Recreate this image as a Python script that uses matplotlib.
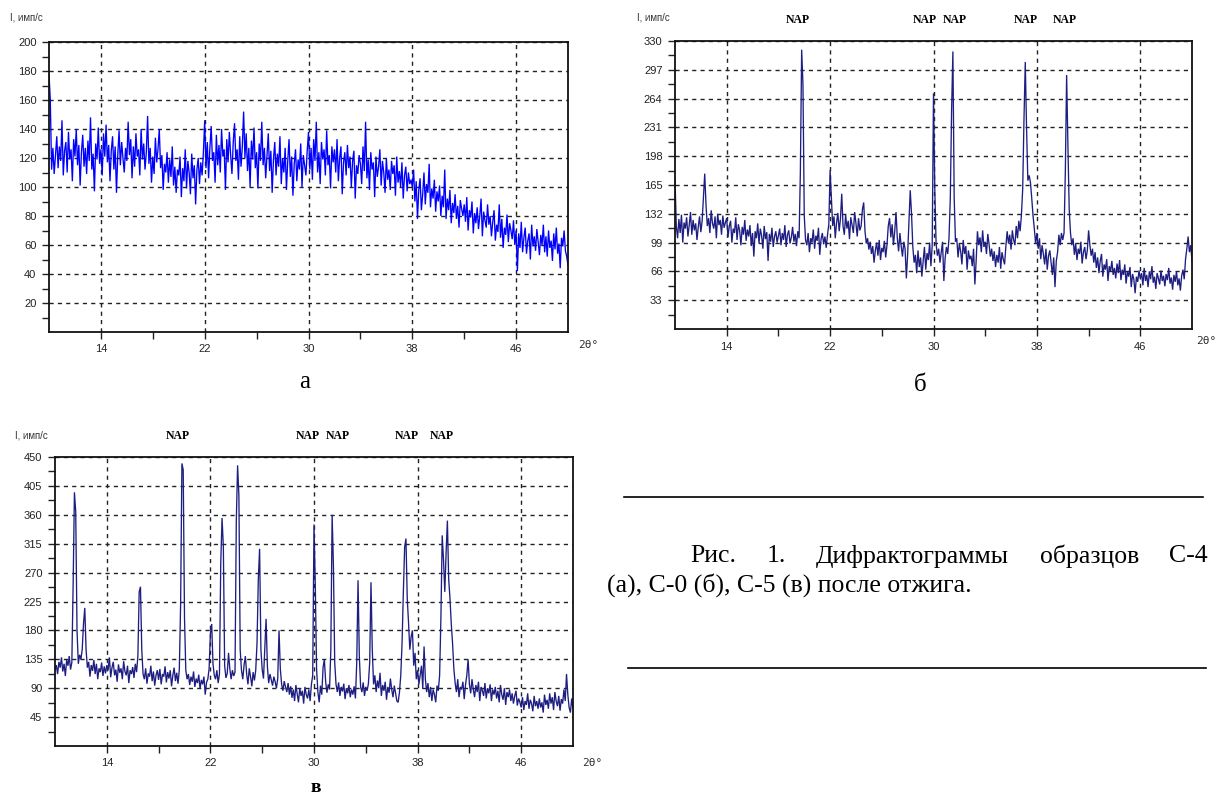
import numpy as np
import matplotlib
matplotlib.use('Agg')
import matplotlib.pyplot as plt

# 2θ grid: 10.0 .. 50.0 step 0.1 deg
theta_start, theta_stop, theta_step = 10.0, 50.0, 0.1

# ---- sample C-4 (а) ----
intensity_a = [
    178, 160, 112, 127, 109, 122, 135, 113, 128, 118, 146, 108, 125, 131, 110, 138, 119, 126, 104, 133,
    121, 140, 115, 129, 101, 124, 136, 114, 127, 109, 132, 118, 148, 112, 123, 97, 130, 119, 141, 116,
    126, 108, 137, 121, 143, 117, 129, 104, 125, 135, 112, 128, 96, 122, 139, 115, 131, 120, 110, 127,
    118, 145, 122, 133, 106, 128, 114, 137, 121, 126, 108, 140, 119, 130, 112, 124, 149, 116, 127, 103,
    121, 109, 134, 117, 126, 140, 113, 122, 98, 116, 110, 124, 103, 119, 107, 128, 101, 114, 96, 112,
    108, 121, 93, 113, 104, 126, 99, 118, 110, 95, 123, 106, 115, 88, 112, 120, 102, 117, 108, 124,
    146, 113, 131, 106, 127, 142, 118, 124, 103, 136, 115, 129, 110, 140, 121, 126, 98, 133, 117, 138,
    122, 109, 131, 144, 118, 126, 105, 135, 114, 128, 152, 120, 137, 111, 127, 100, 132, 119, 141, 113,
    124, 99, 130, 118, 145, 115, 127, 106, 121, 137, 111, 125, 96, 119, 131, 108, 123, 114, 135, 102,
    120, 110, 127, 98, 118, 133, 107, 121, 94, 116, 126, 104, 119, 112, 130, 100, 122, 115, 108, 125,
    138, 112, 127, 105, 133, 118, 145, 110, 124, 102, 131, 119, 126, 108, 139, 115, 122, 99, 128, 117,
    126, 110, 133, 104, 120, 128, 95, 117, 124, 108, 129, 113, 121, 100, 118, 125, 92, 115, 109, 122,
    116, 102, 128, 111, 145, 106, 119, 98, 124, 112, 117, 93, 121, 107, 114, 126, 101, 118, 110, 96,
    120, 105, 112, 98, 118, 109, 115, 94, 121, 103, 111, 100, 117, 92, 108, 114, 97, 110, 102, 105,
    100, 112, 90, 104, 78, 98, 106, 84, 95, 110, 88, 102, 96, 116, 86, 99, 92, 105, 83, 97,
    90, 101, 80, 94, 86, 112, 78, 92, 84, 98, 75, 89, 82, 95, 78, 87, 72, 91, 85, 80,
    88, 76, 93, 70, 84, 79, 90, 68, 82, 75, 86, 71, 80, 92, 66, 83, 77, 72, 88, 74,
    80, 66, 76, 84, 63, 74, 69, 88, 65, 78, 58, 72, 67, 81, 62, 75, 70, 64, 77, 60,
    70, 42, 68, 58, 76, 55, 65, 72, 54, 63, 68, 50, 74, 59, 66, 56, 71, 62, 53, 67,
    60, 74, 55, 66, 52, 70, 58, 63, 49, 68, 57, 72, 54, 61, 44, 65, 59, 70, 56, 52,
    46,
]

# ---- sample C-0 (б) ----
intensity_b = [
    172, 118, 104, 126, 110, 131, 99, 122, 115, 128, 106, 119, 134, 108, 125, 113, 121, 102, 117, 129,
    111, 124, 150, 178, 142, 118, 127, 110, 136, 121, 115, 129, 104, 132, 119, 125, 108, 130, 116, 122,
    127, 105, 118, 124, 99, 115, 110, 128, 102, 120, 113, 96, 117, 108, 125, 101, 114, 106, 119, 95,
    110, 83, 112, 104, 121, 98, 115, 107, 92, 118, 103, 111, 78, 109, 100, 116, 94, 106, 112, 99,
    107, 115, 96, 110, 102, 119, 94, 108, 113, 98, 105, 117, 100, 109, 95, 112, 104, 180, 320, 280,
    130, 102, 96, 110, 88, 104, 99, 114, 92, 107, 101, 116, 85, 103, 110, 97, 106, 93, 108, 120,
    182, 150, 118, 129, 104, 122, 133, 112, 126, 155, 118, 108, 131, 115, 124, 103, 128, 119, 110, 134,
    121, 106, 127, 113, 118, 137, 145, 112, 98, 104, 91, 100, 86, 95, 76, 90, 99, 84, 102, 79,
    93, 88, 101, 82, 96, 118, 127, 105, 120, 96, 112, 134, 104, 89, 110, 95, 83, 100, 92, 58,
    86, 124, 159, 132, 94, 76, 85, 64, 90, 71, 82, 60, 78, 94, 68, 87, 79, 99, 72, 96,
    270, 160, 98, 84, 92, 76, 88, 100, 55, 81, 94, 86, 104, 150, 250, 318, 150, 100, 104, 82,
    98, 89, 74, 102, 86, 95, 68, 90, 80, 84, 72, 92, 51, 78, 112, 96, 105, 88, 113, 94,
    100, 86, 109, 97, 83, 92, 78, 89, 71, 85, 76, 94, 69, 88, 80, 74, 95, 112, 98, 108,
    91, 113, 102, 96, 118, 104, 124, 112, 130, 160, 240, 306, 230, 170, 176, 168, 150, 130, 115, 98,
    110, 92, 104, 80, 96, 86, 74, 92, 68, 84, 90, 76, 62, 82, 48, 78, 88, 108, 96, 110,
    102, 110, 180, 291, 210, 137, 110, 96, 104, 85, 98, 79, 92, 86, 100, 75, 88, 94, 80, 90,
    113, 96, 84, 92, 76, 88, 70, 82, 64, 78, 86, 60, 74, 68, 80, 55, 72, 66, 78, 62,
    70, 58, 75, 64, 79, 56, 68, 62, 74, 52, 66, 60, 71, 48, 63, 57, 41, 60, 54, 67,
    58, 64, 50, 70, 55, 62, 48, 66, 57, 72, 53, 60, 46, 64, 58, 51, 67, 55, 61, 49,
    63, 56, 70, 52, 59, 45, 62, 54, 66, 50, 58, 44, 61, 68, 57, 80, 92, 106, 88, 96,
    78,
]

# ---- sample C-5 (в) ----
intensity_c = [
    118, 126, 112, 131, 122, 138, 116, 128, 109, 134, 125, 140, 119, 130, 250, 395, 365, 180, 128, 142,
    135, 150, 190, 215, 150, 122, 131, 108, 126, 117, 134, 112, 128, 104, 121, 115, 130, 109, 124, 113,
    126, 118, 138, 107, 122, 131, 110, 119, 100, 127, 114, 121, 104, 132, 116, 110, 125, 98, 118, 112,
    123, 106, 128, 115, 140, 240, 248, 150, 112, 104, 121, 97, 113, 108, 125, 101, 116, 94, 110, 118,
    103, 120, 96, 112, 108, 124, 99, 115, 105, 118, 93, 110, 122, 101, 114, 97, 119, 220, 440, 430,
    200, 118, 104, 112, 95, 108, 100, 116, 92, 105, 98, 111, 89, 103, 96, 108, 80, 99, 104, 120,
    175, 190, 128, 110, 104, 118, 98, 112, 285, 355, 310, 125, 106, 113, 145, 120, 104, 118, 109, 115,
    350, 437, 390, 150, 118, 104, 126, 140, 112, 96, 121, 108, 93, 115, 102, 118, 160, 260, 307, 150,
    119, 105, 150, 198, 124, 98, 112, 103, 94, 108, 100, 90, 105, 180, 120, 96, 86, 101, 92, 84,
    98, 80, 93, 75, 88, 70, 95, 82, 68, 90, 78, 86, 66, 92, 80, 74, 88, 70, 96, 110,
    345, 250, 120, 84, 68, 94, 80, 122, 135, 100, 83, 96, 88, 150, 360, 280, 130, 96, 84, 99,
    78, 92, 85, 97, 73, 90, 82, 95, 76, 88, 80, 93, 74, 130, 258, 140, 92, 84, 99, 78,
    92, 86, 97, 130, 255, 150, 96, 110, 84, 102, 90, 114, 78, 95, 86, 100, 72, 92, 83, 105,
    88, 76, 94, 82, 70, 68, 84, 110, 160, 240, 310, 323, 230, 192, 150, 170, 180, 125, 145, 104,
    118, 96, 110, 125, 90, 155, 104, 84, 98, 76, 92, 70, 88, 80, 68, 94, 86, 110, 200, 328,
    290, 240, 300, 351, 260, 230, 190, 160, 120, 98, 84, 104, 76, 92, 88, 100, 73, 95, 110, 135,
    96, 82, 104, 88, 76, 95, 84, 100, 70, 92, 86, 78, 98, 74, 90, 82, 96, 70, 88, 80,
    92, 74, 86, 68, 95, 80, 72, 90, 64, 84, 76, 88, 70, 82, 66, 78, 86, 63, 74, 68,
    60, 76, 56, 70, 64, 82, 58, 72, 66, 54, 78, 62, 70, 58, 74, 60, 68, 52, 80, 64,
    72, 58, 82, 66, 76, 56, 84, 70, 62, 78, 55, 73, 66, 88, 70, 112, 80, 60, 52, 74,
    58,
]

x_major = [14, 22, 30, 38, 46]
x_minor = [18, 26, 34, 42]
y_ticks_a = [20, 40, 60, 80, 100, 120, 140, 160, 180, 200]
y_ticks_b = [33, 66, 99, 132, 165, 198, 231, 264, 297, 330]
y_ticks_c = [45, 90, 135, 180, 225, 270, 315, 360, 405, 450]

caption_line1 = ['Рис.', '1.', 'Дифрактограммы', 'образцов', 'С-4']
caption_line2 = '(а), С-0 (б), С-5 (в) после отжига.'

W, H = 1217, 801
fig = plt.figure(figsize=(W / 100, H / 100), dpi=100)


def px(x0, y0, x1, y1):
    return [x0 / W, 1 - y1 / H, (x1 - x0) / W, (y1 - y0) / H]


def fx(x):
    return x / W


def fy(y):
    return 1 - y / H


n = int(round((theta_stop - theta_start) / theta_step)) + 1
theta = theta_start + theta_step * np.arange(n)


def panel(rect, yvals, yticks, color):
    ax = fig.add_axes(rect)
    ax.plot(theta, yvals, color=color, lw=0.95, solid_joinstyle='miter')
    ax.set_xlim(10, 50)
    ax.set_ylim(0, yticks[-1])
    ax.set_xticks(x_major)
    ax.set_xticks(x_minor, minor=True)
    ax.set_yticks(yticks)
    step = yticks[1] - yticks[0]
    ax.set_yticks([t - step / 2 for t in yticks], minor=True)
    ax.grid(True, which='major', linestyle=(0, (3, 3)), color='#222222', lw=1.0)
    ax.tick_params(which='both', direction='out', length=5, width=1,
                   labelsize=8, colors='#222222', pad=4)
    for lab in ax.get_xticklabels() + ax.get_yticklabels():
        lab.set_fontfamily('Liberation Sans')
    for s in ax.spines.values():
        s.set_linewidth(1.3)
        s.set_color('#111111')
    return ax


ax_a = panel(px(49, 42, 568, 332), intensity_a, y_ticks_a, '#0000ff')
ax_b = panel(px(675, 41, 1192, 329), intensity_b, y_ticks_b, '#1e1e82')
ax_c = panel(px(55, 457, 573, 746), intensity_c, y_ticks_c, '#1e1e82')

lab_kw = dict(fontsize=7, color='#333333', family='Liberation Sans', va='center', ha='left')
fig.text(fx(10), fy(18), 'I, имп/с', **lab_kw)
fig.text(fx(637), fy(18), 'I, имп/с', **lab_kw)
fig.text(fx(15), fy(435), 'I, имп/с', **lab_kw)

th_kw = dict(fontsize=8, color='#333333', family='DejaVu Sans Mono', va='center', ha='left')
fig.text(fx(578), fy(345), '2θ°', **th_kw)
fig.text(fx(1196), fy(341), '2θ°', **th_kw)
fig.text(fx(582), fy(763), '2θ°', **th_kw)

nap_kw = dict(fontsize=8.5, fontweight='bold', family='Liberation Serif', va='center', ha='center')
for xc in [798, 925, 955, 1026, 1065]:
    fig.text(fx(xc), fy(20), 'NAP', **nap_kw)
for xc in [178, 308, 338, 407, 442]:
    fig.text(fx(xc), fy(436), 'NAP', **nap_kw)

serif = dict(family='Liberation Serif', color='black', va='center', ha='center')
fig.text(fx(305), fy(382), 'а', fontsize=18, **serif)
fig.text(fx(920), fy(385), 'б', fontsize=18, **serif)
fig.text(fx(316), fy(788), 'в', fontsize=14, fontweight='bold', **serif)

fig.add_artist(plt.Line2D([fx(624), fx(1203)], [fy(497), fy(497)], color='black', lw=1.2))
fig.add_artist(plt.Line2D([fx(628), fx(1206)], [fy(668), fy(668)], color='black', lw=1.2))

cap = dict(family='Liberation Serif', fontsize=18.5, color='black', va='center', ha='left')
# justified first line between x=690 and x=1208
renderer = fig.canvas.get_renderer()
words = [fig.text(0, fy(556), w, **cap) for w in caption_line1]
widths = [t.get_window_extent(renderer).width for t in words]
gap = (1208 - 690 - sum(widths)) / (len(words) - 1)
xpos = 690
for t, wd in zip(words, widths):
    t.set_x(fx(xpos))
    xpos += wd + gap
fig.text(fx(607), fy(585), caption_line2, **cap)

fig.savefig('out.png', dpi=100, facecolor='white')
